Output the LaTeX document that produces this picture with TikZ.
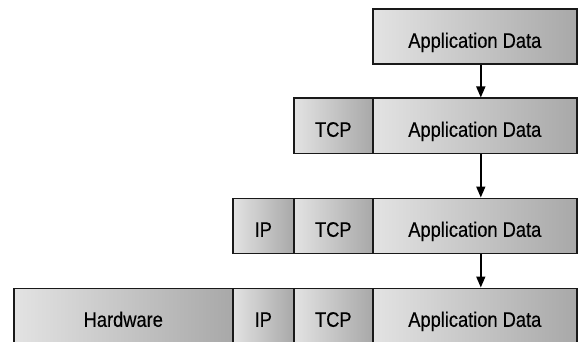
\documentclass[tikz,border=0pt]{standalone}
\usepackage{fontspec}
\setmainfont{Liberation Sans}[FakeStretch=0.87,FakeBold=0.4]
\usetikzlibrary{arrows.meta}
\begin{document}
\begin{tikzpicture}[x=1pt,y=-1pt,
  cell/.style={draw=black!90, line width=1.6pt, shading=axis, left color=black!11, right color=black!34,
    minimum height=55pt, inner sep=0pt, anchor=north west, text height=22pt, text depth=0pt,
    font=\fontsize{21}{22}\selectfont, text=black},
  arr/.style={line width=1.5pt, -{Triangle[length=11pt,width=9pt]}}]
\useasboundingbox (0,0) rectangle (578,342);
% row 1
\node[cell, minimum width=204pt] (a1) at (372,8.5) {Application Data};
% row 2
\node[cell, minimum width=79pt] (t2) at (293,97.5) {TCP};
\node[cell, minimum width=204pt] (a2) at (372,97.5) {Application Data};
% row 3
\node[cell, minimum width=61pt] (i3) at (232,197.5) {IP};
\node[cell, minimum width=79pt] (t3) at (293,197.5) {TCP};
\node[cell, minimum width=204pt] (a3) at (372,197.5) {Application Data};
% row 4
\node[cell, minimum width=219pt] (h4) at (13,287.5) {Hardware};
\node[cell, minimum width=61pt] (i4) at (232,287.5) {IP};
\node[cell, minimum width=79pt] (t4) at (293,287.5) {TCP};
\node[cell, minimum width=204pt] (a4) at (372,287.5) {Application Data};
% arrows
\draw[arr] ([xshift=6pt]a1.south) -- ([xshift=6pt]a2.north);
\draw[arr] ([xshift=6pt]a2.south) -- ([xshift=6pt]a3.north);
\draw[arr] ([xshift=6pt]a3.south) -- ([xshift=6pt]a4.north);
\end{tikzpicture}
\end{document}
